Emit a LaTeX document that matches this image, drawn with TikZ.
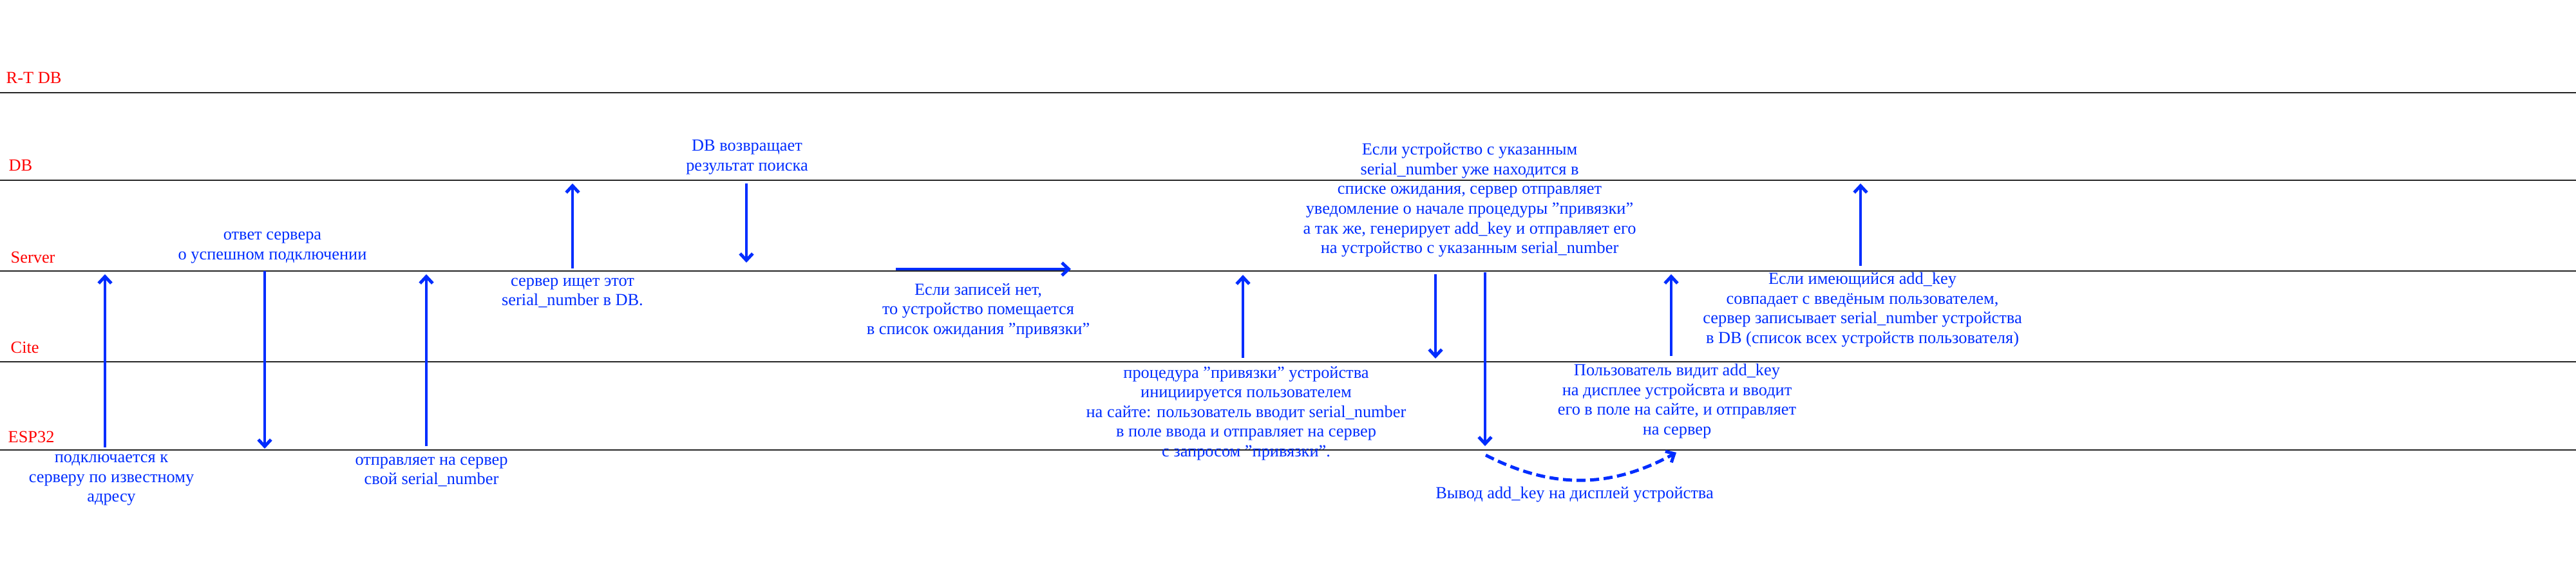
\documentclass[tikz,border=0pt]{standalone}
\usepackage{fontspec}
\setmainfont{Liberation Serif}
\usetikzlibrary{arrows.meta}

\definecolor{msgblue}{RGB}{0,45,255}
\definecolor{lanered}{RGB}{255,0,0}

\begin{document}
\begin{tikzpicture}[>={Straight Barb[length=3pt,width=5.6pt]},
  font=\fontsize{7.5}{8.7}\selectfont,
  lane/.style={line width=.75pt,black!85},
  lanename/.style={text=lanered,anchor=base west,inner sep=0pt},
  msg/.style={->,line width=1.4pt,msgblue},
  note/.style={text=msgblue,align=center,inner sep=0pt}]
  \useasboundingbox (0,0) rectangle (40,9);
  % lanes
  \draw[lane] (0,7.56)--(40,7.56);
  \draw[lane] (0,6.20)--(40,6.20);
  \draw[lane] (0,4.79)--(40,4.79);
  \draw[lane] (0,3.38)--(40,3.38);
  \draw[lane] (0,2.01)--(40,2.01);
  \node[lanename] (rtdb) at (.09,7.70){R-T DB};
  \node[lanename] (db) at (.13,6.34){DB};
  \node[lanename] (server) at (.16,4.92){Server};
  \node[lanename] (cite) at (.16,3.52){Cite};
  \node[lanename] (esp) at (.12,2.13){ESP32};

  % message ends
  \coordinate (a1s) at (1.63,2.05);  \coordinate (a1e) at (1.63,4.74);
  \coordinate (a2s) at (4.11,4.79);  \coordinate (a2e) at (4.11,2.03);
  \coordinate (a3s) at (6.62,2.07);  \coordinate (a3e) at (6.62,4.74);
  \coordinate (a4s) at (8.89,4.83);  \coordinate (a4e) at (8.89,6.15);
  \coordinate (a5s) at (11.59,6.15); \coordinate (a5e) at (11.59,4.92);
  \coordinate (a6s) at (13.91,4.82); \coordinate (a6e) at (16.63,4.82);
  \coordinate (a7s) at (19.30,3.44); \coordinate (a7e) at (19.30,4.73);
  \coordinate (a8s) at (22.29,4.74); \coordinate (a8e) at (22.29,3.43);
  \coordinate (a9s) at (23.06,4.77); \coordinate (a9e) at (23.06,2.07);
  \coordinate (a10s) at (25.95,3.47); \coordinate (a10e) at (25.95,4.74);
  \coordinate (a11s) at (28.89,4.87); \coordinate (a11e) at (28.89,6.15);
  \coordinate (keys) at (23.07,1.93); \coordinate (keye) at (26.03,1.97);

  \draw[msg] (a1s)--(a1e);
  \draw[msg] (a2s)--(a2e);
  \draw[msg] (a3s)--(a3e);
  \draw[msg] (a4s)--(a4e);
  \draw[msg] (a5s)--(a5e);
  \draw[msg] (a6s)--(a6e);
  \draw[msg] (a7s)--(a7e);
  \draw[msg] (a8s)--(a8e);
  \draw[msg] (a9s)--(a9e);
  \draw[msg] (a10s)--(a10e);
  \draw[msg] (a11s)--(a11e);
  \draw[msg,dash pattern=on 4pt off 2pt] (keys) to[bend right=28] (keye);

  % notes
  \node[note] (connect) at (1.73,1.54){подключается к\\серверу по известному\\адресу};
  \node[note] (reply) at (4.23,5.155){ответ сервера\\о успешном подключении};
  \node[note] (sendsn) at (6.70,1.67){отправляет на сервер\\свой serial\_number};
  \node[note] (search) at (8.89,4.45){сервер ищет этот\\serial\_number в DB.};
  \node[note] (result) at (11.60,6.555){DB возвращает\\результат поиска};
  \node[note] (waitlist) at (15.19,4.175){Если записей нет,\\то устройство помещается\\в список ожидания "привязки"};
  \node[note] (bindreq) at (19.35,2.58){процедура "привязки" устройства\\инициируется пользователем\\на сайте: пользователь вводит serial\_number\\в поле ввода и отправляет на сервер\\с запросом "привязки".};
  \node[note] (notify) at (22.82,5.89){Если устройство с указанным\\serial\_number уже находится в\\списке ожидания, сервер отправляет\\уведомление о начале процедуры "привязки"\\а так же, генерирует add\_key и отправляет его\\на устройство с указанным serial\_number};
  \node[note] (entry) at (26.04,2.77){Пользователь видит add\_key\\на дисплее устройсвта и вводит\\его в поле на сайте, и отправляет\\на сервер};
  \node[note] (showkey) at (24.45,1.32){Вывод add\_key на дисплей устройства};
  \node[note] (save) at (28.92,4.19){Если имеющийся add\_key\\совпадает с введёным пользователем,\\сервер записывает serial\_number устройства\\в DB (список всех устройств пользователя)};
\end{tikzpicture}
\end{document}
